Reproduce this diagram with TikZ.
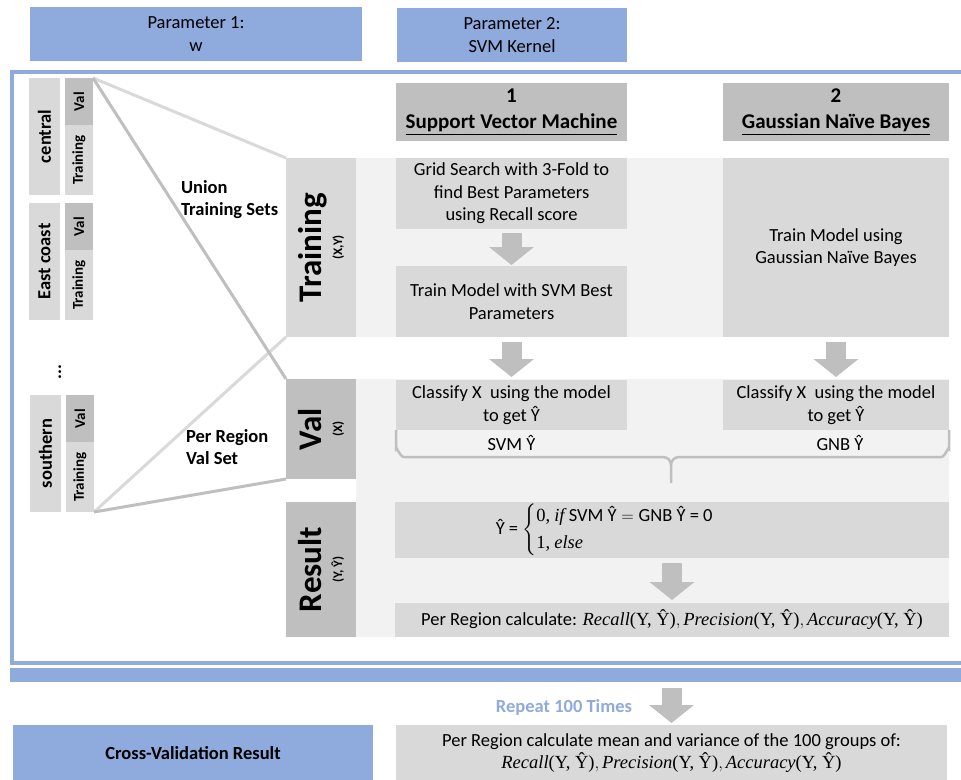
\documentclass[tikz,border=0pt]{standalone}
\usepackage{amsmath}
\usepackage[no-math]{fontspec}
\setmainfont{Carlito}
\newfontfamily\cambriafont{Liberation Serif}
\usetikzlibrary{arrows.meta}

\definecolor{paramblue}{HTML}{8FAADC}
\definecolor{boxgray}{HTML}{D9D9D9}
\definecolor{headgray}{HTML}{BFBFBF}
\definecolor{bandgray}{HTML}{F2F2F2}

\newcommand{\yyhat}{\text{\cambriafont (Y, Ŷ)}}
\newcommand{\mtxt}[1]{\text{\cambriafont\itshape #1}}

\begin{document}
\begin{tikzpicture}[x=1pt,y=-1pt]
\tikzstyle{every node}=[inner sep=0pt, outer sep=0pt, align=center, font=\fontsize{18.5}{22.5}\selectfont]
\tikzstyle{box}=[fill=boxgray]
\tikzstyle{headbox}=[fill=headgray]
\tikzstyle{parbox}=[fill=paramblue]
\tikzstyle{bigtag}=[rotate=90, font=\fontsize{13}{21}\selectfont\bfseries]
\tikzstyle{regiontag}=[rotate=90, font=\fontsize{18.5}{22.5}\selectfont\bfseries]
\tikzstyle{striptag}=[rotate=90, font=\fontsize{15}{18}\selectfont\bfseries]
\tikzstyle{blockarrow}=[draw=headgray, line width=20pt, -{Triangle[length=18pt,width=44pt]}]
\tikzstyle{lightline}=[draw=boxgray, line width=3pt]
\tikzstyle{darkline}=[draw=headgray, line width=3pt]

\useasboundingbox (0,0) rectangle (961,779);

% parameters
\node[parbox, minimum width=332, minimum height=54] (par1) at (196,34) {Parameter 1:\\w};
\node[parbox, minimum width=230, minimum height=54] (par2) at (512,35) {Parameter 2:\\SVM Kernel};

% outer frame and bar
\draw[paramblue, line width=4pt] (12,72) rectangle (1000,663);
\node[parbox, minimum width=951, minimum height=14] (bar) at (485.5,675) {};

% background bands
\fill[bandgray] (356,158) rectangle (949,337);
\fill[bandgray] (356,379) rectangle (949,637);

% regions
\node[box, minimum width=31, minimum height=117] (reg1) at (44.5,136.5) {};
\node[regiontag] (reg1txt) at (reg1) {central};
\node[headbox, minimum width=28, minimum height=47] (val1) at (79,101.5) {};
\node[striptag] (val1txt) at (val1) {Val};
\node[box, minimum width=28, minimum height=70] (tr1) at (79,160) {};
\node[striptag] (tr1txt) at (tr1) {Training};

\node[box, minimum width=31, minimum height=117] (reg2) at (44.5,261.5) {};
\node[regiontag] (reg2txt) at (reg2) {East coast};
\node[headbox, minimum width=28, minimum height=47] (val2) at (79,226.5) {};
\node[striptag] (val2txt) at (val2) {Val};
\node[box, minimum width=28, minimum height=70] (tr2) at (79,285) {};
\node[striptag] (tr2txt) at (tr2) {Training};

\node[regiontag] (dots) at (60,372) {...};

\node[box, minimum width=31, minimum height=117] (reg3) at (45.5,453.5) {};
\node[regiontag] (reg3txt) at (reg3) {southern};
\node[headbox, minimum width=28, minimum height=47] (val3) at (80,418.5) {};
\node[striptag] (val3txt) at (val3) {Val};
\node[box, minimum width=28, minimum height=70] (tr3) at (80,477) {};
\node[striptag] (tr3txt) at (tr3) {Training};

% stage labels
\node[box, minimum width=70, minimum height=179] (trainlbl) at (321,247.5) {};
\node[bigtag] (trainlbltxt) at (trainlbl) {{\fontsize{33}{33}\selectfont Training}\\(X,Y)};
\node[headbox, minimum width=70, minimum height=100] (vallbl) at (321,429) {};
\node[bigtag] (vallbltxt) at (vallbl) {{\fontsize{33}{33}\selectfont Val}\\(X)};
\node[headbox, minimum width=70, minimum height=135] (reslbl) at (321,569.5) {};
\node[bigtag] (reslbltxt) at (reslbl) {{\fontsize{33}{33}\selectfont Result}\\(Y, Ŷ)};

\draw[lightline] (val1.north east) -- (trainlbl.north west);
\draw[lightline] (tr3.south east) -- (trainlbl.south west);
\draw[darkline] (val1.north east) -- (vallbl.north west);
\draw[darkline] (tr3.south east) -- (vallbl.south west);

\node[anchor=west, align=left, font=\fontsize{18.5}{22.5}\selectfont\bfseries] (unionlbl) at (181,199.5) {Union\\Training Sets};
\node[anchor=west, align=left, font=\fontsize{18.5}{22.5}\selectfont\bfseries] (perregionlbl) at (186,447) {Per Region\\Val Set};

% model headers
\node[headbox, minimum width=231, minimum height=58, font=\fontsize{21}{26}\selectfont\bfseries] (svmhead) at (511.5,112) {1\\\underline{Support Vector Machine}};
\node[headbox, minimum width=226, minimum height=58, font=\fontsize{21}{26}\selectfont\bfseries] (gnbhead) at (836,112) {2\\\underline{Gaussian Naïve Bayes}};

% training
\node[box, minimum width=231, minimum height=71] (grid) at (511.5,193.5) {Grid Search with 3-Fold to\\find Best Parameters\\using Recall score};
\node[box, minimum width=231, minimum height=71] (svmfit) at (511.5,301.5) {Train Model with SVM Best\\Parameters};
\node[box, minimum width=226, minimum height=179] (gnbfit) at (836,247.5) {Train Model using\\Gaussian Naïve Bayes};

% validation
\node[box, minimum width=231, minimum height=50] (svmcls) at (511.5,405) {Classify X~ using the model\\to get Ŷ};
\node[box, minimum width=226, minimum height=50] (gnbcls) at (836,405) {Classify X~ using the model\\to get Ŷ};
\node (svmout) at (511.5,443) {SVM Ŷ};
\node (gnbout) at (840,443) {GNB Ŷ};
\draw[headgray, line width=2.5pt] (396,430) -- (396,449) to[out=90,in=180] (404,457) -- (663,457) to[out=0,in=90] (671,465) -- (671,483);
\draw[headgray, line width=2.5pt] (671,465) to[out=90,in=180] (679,457) -- (941,457) to[out=0,in=90] (949,449) -- (949,430);

% result
\node[box, minimum width=554, minimum height=56] (combine) at (672,530) {};
\node (combinetxt) at (614,530) {Ŷ = $\begin{cases}\text{\cambriafont 0,}\ \mtxt{if}\ \text{SVM Ŷ} = \text{GNB Ŷ = 0}\\ \text{\cambriafont 1,}\ \mtxt{else}\end{cases}$};
\node[box, minimum width=554, minimum height=34] (metrics) at (672,620) {Per Region calculate: $\mtxt{Recall}\yyhat,\mtxt{Precision}\yyhat,\mtxt{Accuracy}\yyhat$};

\draw[blockarrow, shorten <=4pt, shorten >=1pt] (grid) -- (svmfit);
\draw[blockarrow, shorten <=5pt, shorten >=3pt] (svmfit) -- (svmcls);
\draw[blockarrow, shorten <=5pt, shorten >=3pt] (gnbfit) -- (gnbcls);
\draw[blockarrow, shorten <=5pt, shorten >=3pt] (combine) -- (metrics);

% cross validation
\node[font=\fontsize{18.5}{22.5}\selectfont\bfseries, text=paramblue] (repeat) at (564,707) {Repeat 100 Times};
\node[parbox, minimum width=360, minimum height=56, font=\fontsize{18.5}{22.5}\selectfont\bfseries] (cvres) at (193,753) {Cross-Validation Result};
\node[box, minimum width=551, minimum height=56] (final) at (671.5,753) {Per Region calculate mean and variance of the 100 groups of:\\$\mtxt{Recall}\yyhat,\mtxt{Precision}\yyhat,\mtxt{Accuracy}\yyhat$};
\draw[blockarrow, shorten <=6pt, shorten >=2pt] (bar.south -| final.north) -- (final.north);
\end{tikzpicture}
\end{document}
